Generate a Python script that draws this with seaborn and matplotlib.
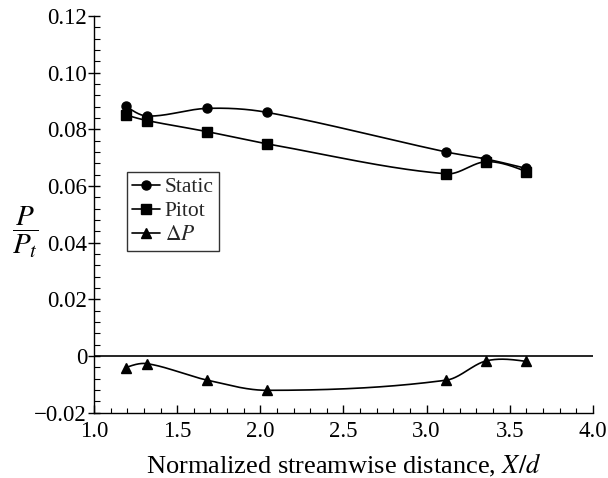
import numpy as np
import matplotlib
matplotlib.use("Agg")
import matplotlib.pyplot as plt
from matplotlib.lines import Line2D
from matplotlib.ticker import FixedLocator, MultipleLocator, FuncFormatter
import seaborn as sns

# Measured pressure ratios along the streamwise direction
x_pos = [1.19, 1.32, 1.68, 2.04, 3.12, 3.36, 3.60]
static = [0.0883, 0.0847, 0.0874, 0.0860, 0.0720, 0.0695, 0.0662]
pitot = [0.0851, 0.0831, 0.0792, 0.0749, 0.0643, 0.0686, 0.0651]
delta_p = [-0.0041, -0.0027, -0.0085, -0.0121, -0.0085, -0.0017, -0.0019]

series_names = ["Static", "Pitot", r"$\Delta P$"]
series_markers = ["o", "s", "^"]
y_ticks = [-0.02, 0.0, 0.02, 0.04, 0.06, 0.08, 0.10, 0.12]
x_ticks = [1.0, 1.5, 2.0, 2.5, 3.0, 3.5, 4.0]


def smooth_curve(x, y, n=60):
    """Piecewise cubic Hermite curve with central-difference slopes."""
    x = np.asarray(x, float)
    y = np.asarray(y, float)
    m = len(x)
    d = np.zeros(m)
    sec = np.diff(y) / np.diff(x)
    for i in range(1, m - 1):
        d[i] = (y[i + 1] - y[i - 1]) / (x[i + 1] - x[i - 1])
    d[0] = (3 * sec[0] - d[1]) / 2
    d[-1] = (3 * sec[-1] - d[-2]) / 2
    xs_all, ys_all = [], []
    for i in range(m - 1):
        h = x[i + 1] - x[i]
        t = np.linspace(0, 1, n)
        h00 = 2 * t ** 3 - 3 * t ** 2 + 1
        h10 = t ** 3 - 2 * t ** 2 + t
        h01 = -2 * t ** 3 + 3 * t ** 2
        h11 = t ** 3 - t ** 2
        ys = h00 * y[i] + h10 * h * d[i] + h01 * y[i + 1] + h11 * h * d[i + 1]
        xs = x[i] + t * h
        if i > 0:
            xs, ys = xs[1:], ys[1:]
        xs_all.append(xs)
        ys_all.append(ys)
    return np.concatenate(xs_all), np.concatenate(ys_all)


sns.set_style("ticks")
plt.rcParams["font.family"] = ["Liberation Serif", "DejaVu Serif"]
plt.rcParams["mathtext.fontset"] = "stix"

fig = plt.figure(figsize=(6.08, 4.78), dpi=100)
ax = fig.add_axes([0.1546, 0.1366, 0.8204, 0.8299])

handles = []
for vals, name, mk in zip([static, pitot, delta_p], series_names, series_markers):
    xs, ys = smooth_curve(x_pos, vals)
    sns.lineplot(x=xs, y=ys, ax=ax, color="black", lw=1.2, sort=False,
                 estimator=None)
    msize = 7.5 if mk == "^" else 6.5
    ax.plot(x_pos, vals, linestyle="none", marker=mk, color="black",
            markersize=msize, zorder=4)
    handles.append(Line2D([], [], color="black", lw=1.2, marker=mk,
                          markersize=msize, label=name))

ax.axhline(0, color="black", lw=1.2, zorder=1)

ax.set_xlim(1.0, 4.0)
ax.set_ylim(-0.02, 0.12)
ax.xaxis.set_major_locator(FixedLocator(x_ticks))
ax.xaxis.set_minor_locator(MultipleLocator(0.1))
ax.yaxis.set_major_locator(FixedLocator(y_ticks))
ax.yaxis.set_minor_locator(MultipleLocator(0.004))
ax.xaxis.set_major_formatter(FuncFormatter(lambda v, p: f"{v:.1f}"))


def yfmt(v, p):
    if abs(v) < 1e-9:
        return "0"
    s = f"{v:.2f}"
    return s.replace("-", "\u2212")


ax.yaxis.set_major_formatter(FuncFormatter(yfmt))

for s in ["top", "right"]:
    ax.spines[s].set_visible(False)
for s in ["left", "bottom"]:
    ax.spines[s].set_color("black")
    ax.spines[s].set_linewidth(1.0)

ax.tick_params(axis="y", which="major", direction="inout", length=8,
               width=1.0, color="black", labelsize=16.5, pad=1,
               labelcolor="black")
ax.tick_params(axis="y", which="minor", direction="in", length=4, width=0.8,
               color="black")
ax.tick_params(axis="x", which="major", direction="in", length=6, width=1.0,
               color="black", labelsize=16.5, pad=6, labelcolor="black")
ax.tick_params(axis="x", which="minor", direction="in", length=3.5,
               width=0.8, color="black")

ax.set_xlabel(r"Normalized streamwise distance, $X/d$", fontsize=19,
              color="black", labelpad=7)
ax.text(-0.137, 0.455, r"$\dfrac{P}{P_t}$", transform=ax.transAxes,
        ha="center", va="center", fontsize=21, color="black")

leg = ax.legend(handles=handles, loc="upper left",
                bbox_to_anchor=(0.066, 0.607), borderaxespad=0,
                fontsize=15.5, frameon=True, fancybox=False, handlelength=1.3,
                handletextpad=0.2, borderpad=0.25, labelspacing=0.18)
leg.get_frame().set_edgecolor("black")
leg.get_frame().set_linewidth(1.0)

fig.savefig("out.png", dpi=100, facecolor="white")
